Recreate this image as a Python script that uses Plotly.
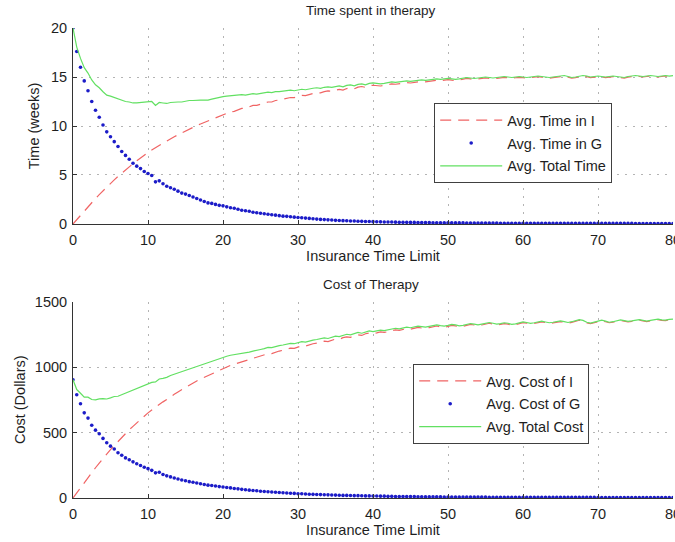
import numpy as np
import plotly.graph_objects as go

# Insurance time limit (weeks), sampled every half week
insurance_limit = np.arange(0, 80.5, 0.5)

# Average weeks spent in individual (I) and group (G) therapy, and in total
time_in_i = [
    0.0, 0.45, 0.9, 1.35, 1.8, 2.2, 2.6, 3.0, 3.4, 3.75,
    4.15, 4.5, 4.85, 5.2, 5.5, 5.85, 6.15, 6.45, 6.75, 7.05,
    7.3, 7.55, 7.8, 8.0, 8.25, 8.45, 8.7, 8.9, 9.1, 9.3,
    9.5, 9.7, 9.85, 10.05, 10.2, 10.35, 10.5, 10.65, 10.85, 11.0,
    11.15, 11.3, 11.45, 11.5, 11.65, 11.8, 11.8, 11.95, 12.1, 12.1,
    12.2, 12.3, 12.45, 12.45, 12.6, 12.65, 12.75, 12.82, 12.91, 12.9,
    13.04, 13.12, 13.1, 13.23, 13.31, 13.4, 13.38, 13.5, 13.58, 13.55,
    13.68, 13.74, 13.66, 13.82, 13.89, 13.8, 13.97, 14.03, 13.94, 14.1,
    14.16, 14.12, 14.08, 14.14, 14.25, 14.3, 14.26, 14.32, 14.37, 14.43,
    14.39, 14.44, 14.5, 14.55, 14.51, 14.56, 14.62, 14.67, 14.62, 14.68,
    14.73, 14.68, 14.64, 14.69, 14.79, 14.85, 14.8, 14.75, 14.8, 14.86,
    14.91, 14.86, 14.81, 14.86, 14.92, 14.97, 14.92, 14.87, 14.92, 14.97,
    14.93, 14.88, 14.93, 14.98, 15.03, 14.98, 14.93, 14.88, 14.93, 14.98,
    15.03, 15.08, 14.98, 14.89, 14.94, 15.04, 15.09, 15.04, 14.94, 14.99,
    15.04, 14.99, 14.94, 14.99, 15.04, 14.99, 14.94, 14.89, 14.99, 15.04,
    15.1, 15.05, 15.0, 15.05, 15.1, 15.05, 15.0, 15.05, 15.1, 15.05,
    15.1,
]
time_in_g = [
    20.0, 17.6, 16.0, 14.6, 13.6, 12.5, 11.6, 10.9, 10.1, 9.4,
    8.9, 8.4, 7.9, 7.4, 7.0, 6.6, 6.2, 5.9, 5.65, 5.35,
    5.15, 4.95, 4.3, 4.4, 4.1, 3.85, 3.7, 3.55, 3.35, 3.15,
    3.05, 2.9, 2.75, 2.6, 2.45, 2.3, 2.15, 2.1, 2.0, 1.9,
    1.85, 1.75, 1.65, 1.6, 1.5, 1.4, 1.35, 1.3, 1.2, 1.15,
    1.1, 1.05, 1.0, 0.95, 0.9, 0.85, 0.8, 0.78, 0.74, 0.7,
    0.66, 0.63, 0.6, 0.57, 0.54, 0.5, 0.47, 0.45, 0.42, 0.4,
    0.37, 0.36, 0.34, 0.33, 0.31, 0.3, 0.28, 0.27, 0.26, 0.25,
    0.24, 0.23, 0.22, 0.21, 0.2, 0.2, 0.19, 0.18, 0.18, 0.17,
    0.16, 0.16, 0.15, 0.15, 0.14, 0.14, 0.13, 0.13, 0.13, 0.12,
    0.12, 0.12, 0.11, 0.11, 0.11, 0.1, 0.1, 0.1, 0.1, 0.09,
    0.09, 0.09, 0.09, 0.09, 0.08, 0.08, 0.08, 0.08, 0.08, 0.08,
    0.07, 0.07, 0.07, 0.07, 0.07, 0.07, 0.07, 0.07, 0.07, 0.07,
    0.07, 0.07, 0.07, 0.06, 0.06, 0.06, 0.06, 0.06, 0.06, 0.06,
    0.06, 0.06, 0.06, 0.06, 0.06, 0.06, 0.06, 0.06, 0.06, 0.06,
    0.05, 0.05, 0.05, 0.05, 0.05, 0.05, 0.05, 0.05, 0.05, 0.05,
    0.05,
]
total_time = [
    20.0, 18.05, 16.9, 15.95, 15.4, 14.7, 14.2, 13.9, 13.5, 13.15,
    13.05, 12.9, 12.75, 12.6, 12.5, 12.45, 12.35, 12.35, 12.4, 12.4,
    12.45, 12.5, 12.1, 12.4, 12.35, 12.3, 12.4, 12.45, 12.45, 12.45,
    12.55, 12.6, 12.6, 12.65, 12.65, 12.65, 12.65, 12.75, 12.85, 12.9,
    13.0, 13.05, 13.1, 13.1, 13.15, 13.2, 13.15, 13.25, 13.3, 13.25,
    13.3, 13.35, 13.45, 13.4, 13.5, 13.5, 13.55, 13.6, 13.65, 13.6,
    13.7, 13.75, 13.7, 13.8, 13.85, 13.9, 13.85, 13.95, 14.0, 13.95,
    14.05, 14.1, 14.0, 14.15, 14.2, 14.1, 14.25, 14.3, 14.2, 14.35,
    14.4, 14.35, 14.3, 14.35, 14.45, 14.5, 14.45, 14.5, 14.55, 14.6,
    14.55, 14.6, 14.65, 14.7, 14.65, 14.7, 14.75, 14.8, 14.75, 14.8,
    14.85, 14.8, 14.75, 14.8, 14.9, 14.95, 14.9, 14.85, 14.9, 14.95,
    15.0, 14.95, 14.9, 14.95, 15.0, 15.05, 15.0, 14.95, 15.0, 15.05,
    15.0, 14.95, 15.0, 15.05, 15.1, 15.05, 15.0, 14.95, 15.0, 15.05,
    15.1, 15.15, 15.05, 14.95, 15.0, 15.1, 15.15, 15.1, 15.0, 15.05,
    15.1, 15.05, 15.0, 15.05, 15.1, 15.05, 15.0, 14.95, 15.05, 15.1,
    15.15, 15.1, 15.05, 15.1, 15.15, 15.1, 15.05, 15.1, 15.15, 15.1,
    15.15,
]

# Average cost (dollars) of individual (I) and group (G) therapy, and in total
cost_of_i = [
    0, 40, 80, 120, 160, 196, 231, 267, 303, 334,
    369, 401, 432, 463, 490, 521, 547, 574, 601, 627,
    650, 672, 694, 712, 734, 752, 774, 792, 810, 828,
    846, 863, 877, 894, 908, 921, 935, 948, 966, 979,
    992, 1002, 1013, 1021, 1030, 1040, 1047, 1054, 1065, 1071,
    1082, 1090, 1102, 1102, 1114, 1122, 1128, 1134, 1144, 1143,
    1153, 1162, 1160, 1171, 1178, 1183, 1188, 1197, 1194, 1207,
    1214, 1211, 1224, 1230, 1227, 1238, 1246, 1241, 1254, 1260,
    1255, 1261, 1268, 1264, 1271, 1279, 1284, 1280, 1286, 1293,
    1289, 1295, 1302, 1298, 1294, 1301, 1309, 1313, 1307, 1304,
    1310, 1318, 1314, 1306, 1311, 1319, 1325, 1321, 1315, 1321,
    1329, 1334, 1328, 1322, 1326, 1332, 1328, 1320, 1324, 1332,
    1339, 1335, 1329, 1333, 1341, 1345, 1339, 1333, 1337, 1343,
    1347, 1341, 1335, 1341, 1349, 1357, 1351, 1337, 1331, 1339,
    1348, 1354, 1346, 1338, 1342, 1350, 1356, 1350, 1344, 1348,
    1354, 1358, 1352, 1346, 1352, 1358, 1362, 1356, 1354, 1360,
    1362,
]
cost_of_g = [
    903, 788, 720, 650, 610, 556, 518, 490, 455, 422,
    396, 374, 345, 326, 306, 292, 276, 262, 248, 235,
    224, 211, 192, 197, 179, 169, 161, 153, 145, 138,
    132, 125, 120, 114, 109, 103, 98, 96, 92, 87,
    84, 80, 77, 73, 70, 66, 63, 60, 57, 55,
    52, 50, 48, 46, 44, 42, 40, 38, 36, 35,
    33, 32, 30, 29, 28, 27, 26, 25, 24, 23,
    22, 21, 20, 20, 19, 18, 18, 17, 16, 16,
    15, 15, 14, 14, 13, 13, 12, 12, 12, 11,
    11, 11, 10, 10, 10, 9, 9, 9, 9, 8,
    8, 8, 8, 8, 7, 7, 7, 7, 7, 7,
    7, 6, 6, 6, 6, 6, 6, 6, 6, 6,
    5, 5, 5, 5, 5, 5, 5, 5, 5, 5,
    5, 5, 5, 5, 5, 5, 5, 5, 5, 5,
    4, 4, 4, 4, 4, 4, 4, 4, 4, 4,
    4, 4, 4, 4, 4, 4, 4, 4, 4, 4,
    4,
]
total_cost = [
    903, 828, 800, 770, 770, 752, 749, 757, 758, 756,
    765, 775, 777, 789, 796, 813, 823, 836, 849, 862,
    874, 883, 886, 909, 913, 921, 935, 945, 955, 966,
    978, 988, 997, 1008, 1017, 1024, 1033, 1044, 1058, 1066,
    1076, 1082, 1090, 1094, 1100, 1106, 1110, 1114, 1122, 1126,
    1134, 1140, 1150, 1148, 1158, 1164, 1168, 1172, 1180, 1178,
    1186, 1194, 1190, 1200, 1206, 1210, 1214, 1222, 1218, 1230,
    1236, 1232, 1244, 1250, 1246, 1256, 1264, 1258, 1270, 1276,
    1270, 1276, 1282, 1278, 1284, 1292, 1296, 1292, 1298, 1304,
    1300, 1306, 1312, 1308, 1304, 1310, 1318, 1322, 1316, 1312,
    1318, 1326, 1322, 1314, 1318, 1326, 1332, 1328, 1322, 1328,
    1336, 1340, 1334, 1328, 1332, 1338, 1334, 1326, 1330, 1338,
    1344, 1340, 1334, 1338, 1346, 1350, 1344, 1338, 1342, 1348,
    1352, 1346, 1340, 1346, 1354, 1362, 1356, 1342, 1336, 1344,
    1352, 1358, 1350, 1342, 1346, 1354, 1360, 1354, 1348, 1352,
    1358, 1362, 1356, 1350, 1356, 1362, 1366, 1360, 1358, 1364,
    1366,
]

x_ticks = [0, 10, 20, 30, 40, 50, 60, 70, 80]
time_ticks = [0, 5, 10, 15, 20]
cost_ticks = [0, 500, 1000, 1500]

RED = "#f06464"
BLUE = "#1c1cc8"
GREEN = "#62e062"
INK = "#1e1e1e"
FONT = "Liberation Sans, Arial, sans-serif"

fig = go.Figure()


def add_panel(xa, ya, legend, i_vals, g_vals, tot_vals, names):
    fig.add_trace(go.Scatter(
        x=insurance_limit, y=i_vals, mode="lines", name=names[0],
        line=dict(color=RED, width=1.2, dash="11px,7px"),
        xaxis=xa, yaxis=ya, legend=legend, legendgroup=legend + "a",
    ))
    fig.add_trace(go.Scatter(
        x=insurance_limit, y=g_vals, mode="markers", name=names[1],
        marker=dict(color=BLUE, size=3.6),
        xaxis=xa, yaxis=ya, legend=legend, legendgroup=legend + "b",
    ))
    fig.add_trace(go.Scatter(
        x=insurance_limit, y=tot_vals, mode="lines", name=names[2],
        line=dict(color=GREEN, width=1.2),
        xaxis=xa, yaxis=ya, legend=legend, legendgroup=legend + "c",
    ))


add_panel("x", "y", "legend", time_in_i, time_in_g, total_time,
          ["Avg. Time in I", "Avg. Time in G", "Avg. Total Time"])
add_panel("x2", "y2", "legend2", cost_of_i, cost_of_g, total_cost,
          ["Avg. Cost of I", "Avg. Cost of G", "Avg. Total Cost"])

axis_common = dict(
    showline=True, linecolor="#333333", linewidth=1,
    ticks="inside", ticklen=4, tickcolor="#333333",
    showgrid=True, gridcolor="#b4b4b4", griddash="2px,6px", gridwidth=1,
    zeroline=False, tickfont=dict(size=14.5, color=INK),
    title_font=dict(size=14.5, color=INK), ticklabeloverflow="allow",
    automargin=False,
)

legend_common = dict(
    bgcolor="white", bordercolor="#404040", borderwidth=1,
    font=dict(size=14.5, color=INK), xanchor="left", yanchor="top",
    traceorder="grouped", tracegroupgap=1, itemwidth=62,
)

fig.update_layout(
    width=675, height=542,
    margin=dict(l=73, r=2, t=28, b=44, autoexpand=False),
    paper_bgcolor="white", plot_bgcolor="white",
    font=dict(family=FONT, size=14.5, color=INK),
    showlegend=True,
    xaxis=dict(domain=[0, 1], anchor="y", range=[0, 80], tickvals=x_ticks,
               ticklabelstandoff=3,
               title=dict(text="Insurance Time Limit", standoff=2), **axis_common),
    yaxis=dict(domain=[0.583, 1], anchor="x", range=[0, 20], tickvals=time_ticks,
               ticklabelstandoff=2,
               title=dict(text="Time (weeks)", standoff=7), **axis_common),
    xaxis2=dict(domain=[0, 1], anchor="y2", range=[0, 80], tickvals=x_ticks,
                ticklabelstandoff=3,
                title=dict(text="Insurance Time Limit", standoff=2), **axis_common),
    yaxis2=dict(domain=[0, 0.418], anchor="x2", range=[0, 1500], tickvals=cost_ticks,
                ticklabelstandoff=2,
                title=dict(text="Cost (Dollars)", standoff=5), **axis_common),
    legend=dict(x=0.602, y=0.84, **legend_common),
    legend2=dict(x=0.567, y=0.285, **legend_common),
    annotations=[
        dict(text="Time spent in therapy", x=0.497, y=1, xref="paper", yref="paper",
             xanchor="center", yanchor="bottom", yshift=8, showarrow=False,
             font=dict(size=13.5, color=INK)),
        dict(text="Cost of Therapy", x=0.497, y=0.418, xref="paper", yref="paper",
             xanchor="center", yanchor="bottom", yshift=8, showarrow=False,
             font=dict(size=13.5, color=INK)),
    ],
)

fig.write_html("out.html")
